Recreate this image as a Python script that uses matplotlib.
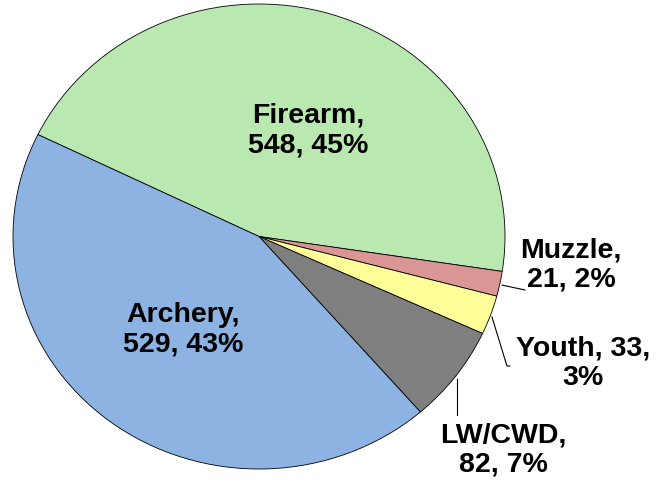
import matplotlib
matplotlib.use("Agg")
import matplotlib.pyplot as plt

# Data
categories = ["Firearm", "Muzzle", "Youth", "LW/CWD", "Archery"]
counts = [548, 21, 33, 82, 529]
percents = [45, 2, 3, 7, 43]
colors = ["#b9e9b0", "#d99694", "#ffff99", "#7f7f7f", "#8db3e2"]

# label text layout and positions (data coords, pie radius = 1)
label_texts = [
    "Firearm,\n548, 45%",
    "Muzzle,\n21, 2%",
    "Youth, 33,\n3%",
    "LW/CWD,\n82, 7%",
    "Archery,\n529, 43%",
]
label_pos = [(0.199, 0.460), (1.268, -0.118), (1.317, -0.540), (0.992, -0.914), (-0.309, -0.398)]

# leader lines for the small slices
leaders = {
    "Muzzle": ([0.988, 1.081], [-0.209, -0.230]),
    "Youth": ([0.947, 1.008, 1.020], [-0.346, -0.557, -0.557]),
    "LW/CWD": ([0.805, 0.805], [-0.613, -0.768]),
}

plt.rcParams['font.family'] = ['Liberation Sans', 'DejaVu Sans']

W, H = 656, 481
fig = plt.figure(figsize=(W / 100, H / 100), dpi=100)
# pie is slightly wider than tall in the reference
ax = fig.add_axes([13 / W, 11 / H, 492 / W, 465 / H])

ax.pie(counts, colors=colors, startangle=154, counterclock=False,
       radius=1, wedgeprops=dict(edgecolor="black", linewidth=0.6))
ax.set_aspect('auto')
ax.set_xlim(-1, 1)
ax.set_ylim(-1, 1)
ax.axis("off")

for txt, (x, y) in zip(label_texts, label_pos):
    ax.text(x, y, txt, ha="center", va="center", fontsize=20.5, fontweight="bold",
            linespacing=1.18, clip_on=False)

for name, (xs, ys) in leaders.items():
    ax.plot(xs, ys, color="black", linewidth=0.8, clip_on=False)

fig.savefig("out.png", dpi=100)
